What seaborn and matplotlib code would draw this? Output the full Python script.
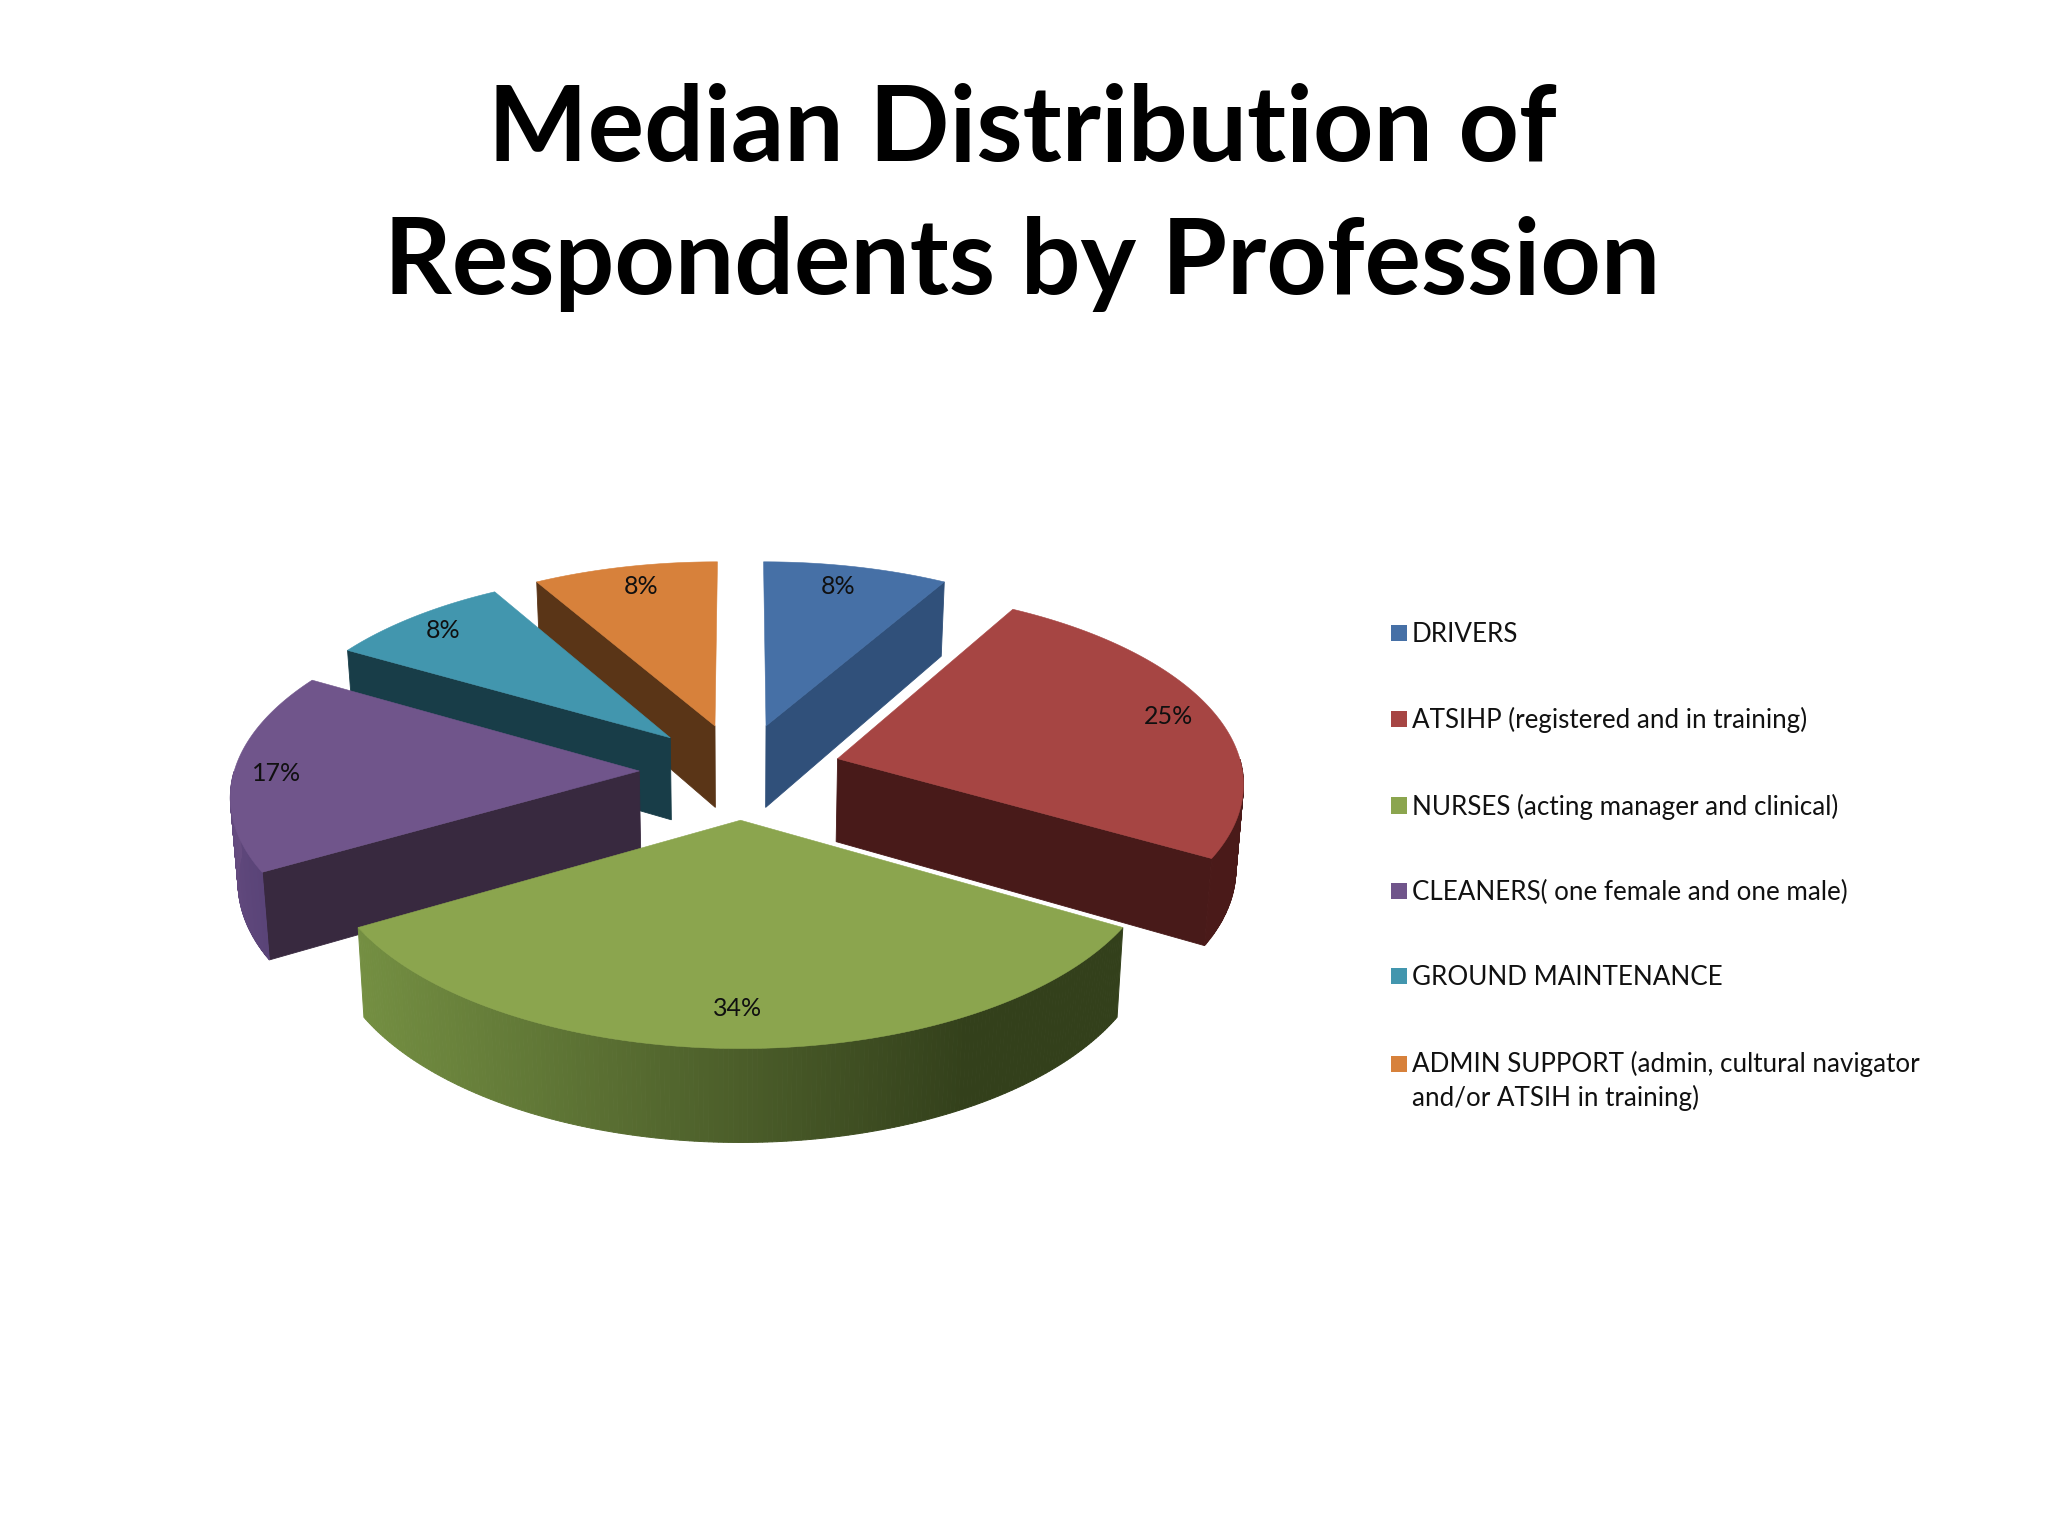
import numpy as np
import matplotlib
matplotlib.use("Agg")
import matplotlib.pyplot as plt
from matplotlib.colors import to_rgb
from matplotlib.patches import Polygon, Rectangle
from matplotlib.legend_handler import HandlerPatch
import seaborn as sns

# ---- data ----
PROFESSIONS = ["DRIVERS", "ATSIHP (registered and in training)",
               "NURSES (acting manager and clinical)",
               "CLEANERS( one female and one male)", "GROUND MAINTENANCE",
               "ADMIN SUPPORT (admin, cultural navigator\nand/or ATSIH in training)"]
PRINTED_PERCENT = [8, 25, 34, 17, 8, 8]
SLICE_SHARES = [8.33, 25.0, 33.34, 16.67, 8.33, 8.33]  # as measured from the slice angles
TITLE_LINES = ["Median Distribution of", "Respondents by Profession"]

# ---- styles ----
TOP = ["#4670A6", "#A64543", "#8BA54E", "#70558B", "#4296AE", "#D7813B"]
SIDE = ["#30507A", "#481A19", "#3A4A1F", "#38293F", "#183D48", "#5A3517"]
RIM = {1: ("#4A1A19", "#4A1A19"), 2: ("#748F42", "#33401B"), 3: ("#5A4478", "#664C80")}
LABEL_FRAC = [.86, .88, .84, .895, .88, .86]
LABEL_TURN = [-1.2, 0, 0.5, -1, 0, 0.8]

# ---- layout of the perspective pie, figure pixels ----
CX, CY, AX_R, AY_R, PERSP, EXPLODE, DEPTH, SHRINK = 740.5, 771, 405, 191.5, .11, .25, 83.5, .985

sns.set_theme(style="white")
sns.set_palette(TOP)
plt.rcParams["font.family"] = ["Lato", "DejaVu Sans"]

fig = plt.figure(figsize=(20.48, 15.36), dpi=100, facecolor="white")
ax = fig.add_axes([0, 0, 1, 1])
ax.set_xlim(0, 2048)
ax.set_ylim(1536, 0)
ax.axis("off")


def project(X, Y):
    s = 1 / (1 - PERSP * np.asarray(Y, float))
    return CX + AX_R * np.asarray(X, float) * s, CY + AY_R * np.asarray(Y, float) * s


def drop(x, y, Y):
    return CX + (x - CX) * SHRINK, y + DEPTH * (1 + .1 * np.asarray(Y, float))


def face(pts_x, pts_y, Y, color, z, lw=.6):
    bx, by = drop(pts_x, pts_y, Y)
    xy = np.column_stack([np.r_[pts_x, bx[::-1]], np.r_[pts_y, by[::-1]]])
    ax.add_patch(Polygon(xy, closed=True, fc=color, ec=color, lw=lw, zorder=z))


edges = np.r_[0, np.cumsum(SLICE_SHARES)] / np.sum(SLICE_SHARES) * 2 * np.pi
order = [5, 0, 4, 1, 3, 2]  # far to near
for rank, i in enumerate(order):
    a0, a1 = edges[i], edges[i + 1]
    mid = (a0 + a1) / 2
    ox, oy = EXPLODE * np.sin(mid), -EXPLODE * np.cos(mid)
    th = np.linspace(a0, a1, 200)
    X, Y = ox + np.sin(th), oy - np.cos(th)
    z = 10 + rank * 3
    ax_x, ax_y = project(ox, oy)
    mx, my = project(ox + .6 * np.sin(mid), oy - .6 * np.cos(mid))
    # radial walls facing the viewer
    for a in (a0, a1):
        px, py = project(ox + np.sin(a), oy - np.cos(a))
        if abs(px - ax_x) < 30:
            continue
        yline = ax_y + (mx - ax_x) * (py - ax_y) / (px - ax_x)
        if my < yline:
            tt = np.linspace(0, 1, 2)
            Yl = oy - tt * np.cos(a)
            xl, yl = project(ox + tt * np.sin(a), Yl)
            face(xl, yl, Yl, SIDE[i], z)
    # outer rim facing the viewer
    keep = np.cos(th) < 0
    if keep.sum() > 1:
        xr, yr = project(X[keep], Y[keep])
        c0, c1 = map(np.array, (to_rgb(RIM[i][0]), to_rgb(RIM[i][1])))
        n = len(xr) - 1
        for k in range(n):
            t = k / n
            if i == 2:  # lighter at the left, darkest towards the right
                t = min((xr[k] - xr.min()) / (xr.max() - xr.min()) / .8, 1)
            col = c0 * (1 - t) + c1 * t
            face(xr[k:k + 2], yr[k:k + 2], Y[keep][k:k + 2], col, z + 1, lw=.7)
    # top
    tx, ty = project(np.r_[ox, X], np.r_[oy, Y])
    ax.add_patch(Polygon(np.column_stack([tx, ty]), closed=True, fc=TOP[i], ec=TOP[i], lw=.4, zorder=z + 2))
    # percentage label
    f = LABEL_FRAC[i]
    la = mid + np.radians(LABEL_TURN[i])
    lx, ly = project(ox + f * np.sin(la), oy - f * np.cos(la))
    ax.text(lx, ly, f"{PRINTED_PERCENT[i]}%", ha="center", va="center", fontsize=18, color="#101010", zorder=40)

fig.suptitle("\n".join(TITLE_LINES), x=.499, y=.946, va="top", ha="center",
             fontsize=76, fontweight="bold", color="black", linespacing=1.476)


class FirstLineHandler(HandlerPatch):
    """Square level with the first line of a two-line legend entry."""

    def __init__(self, lift=0, **kw):
        super().__init__(**kw)
        self.lift = lift

    def create_artists(self, legend, orig, xd, yd, w, h, fs, trans):
        return [Rectangle((-xd, -yd + self.lift), w, h, fc=orig.get_facecolor(), ec="none", transform=trans)]


handles = [Rectangle((0, 0), 1, 1, fc=c, ec="none") for c in TOP]
leg = ax.legend(handles, PROFESSIONS, loc="upper left",
                handler_map={handles[-1]: FirstLineHandler(lift=12.5)},
                bbox_to_anchor=(1391, 622), bbox_transform=ax.transData, frameon=False,
                fontsize=18.7, borderpad=0, borderaxespad=0, handlelength=.6, handleheight=.6,
                handletextpad=.21, labelspacing=2.32, labelcolor="#111111")
leg.get_texts()[-1].set_linespacing(1.38)

fig.savefig("out.png", dpi=100)
